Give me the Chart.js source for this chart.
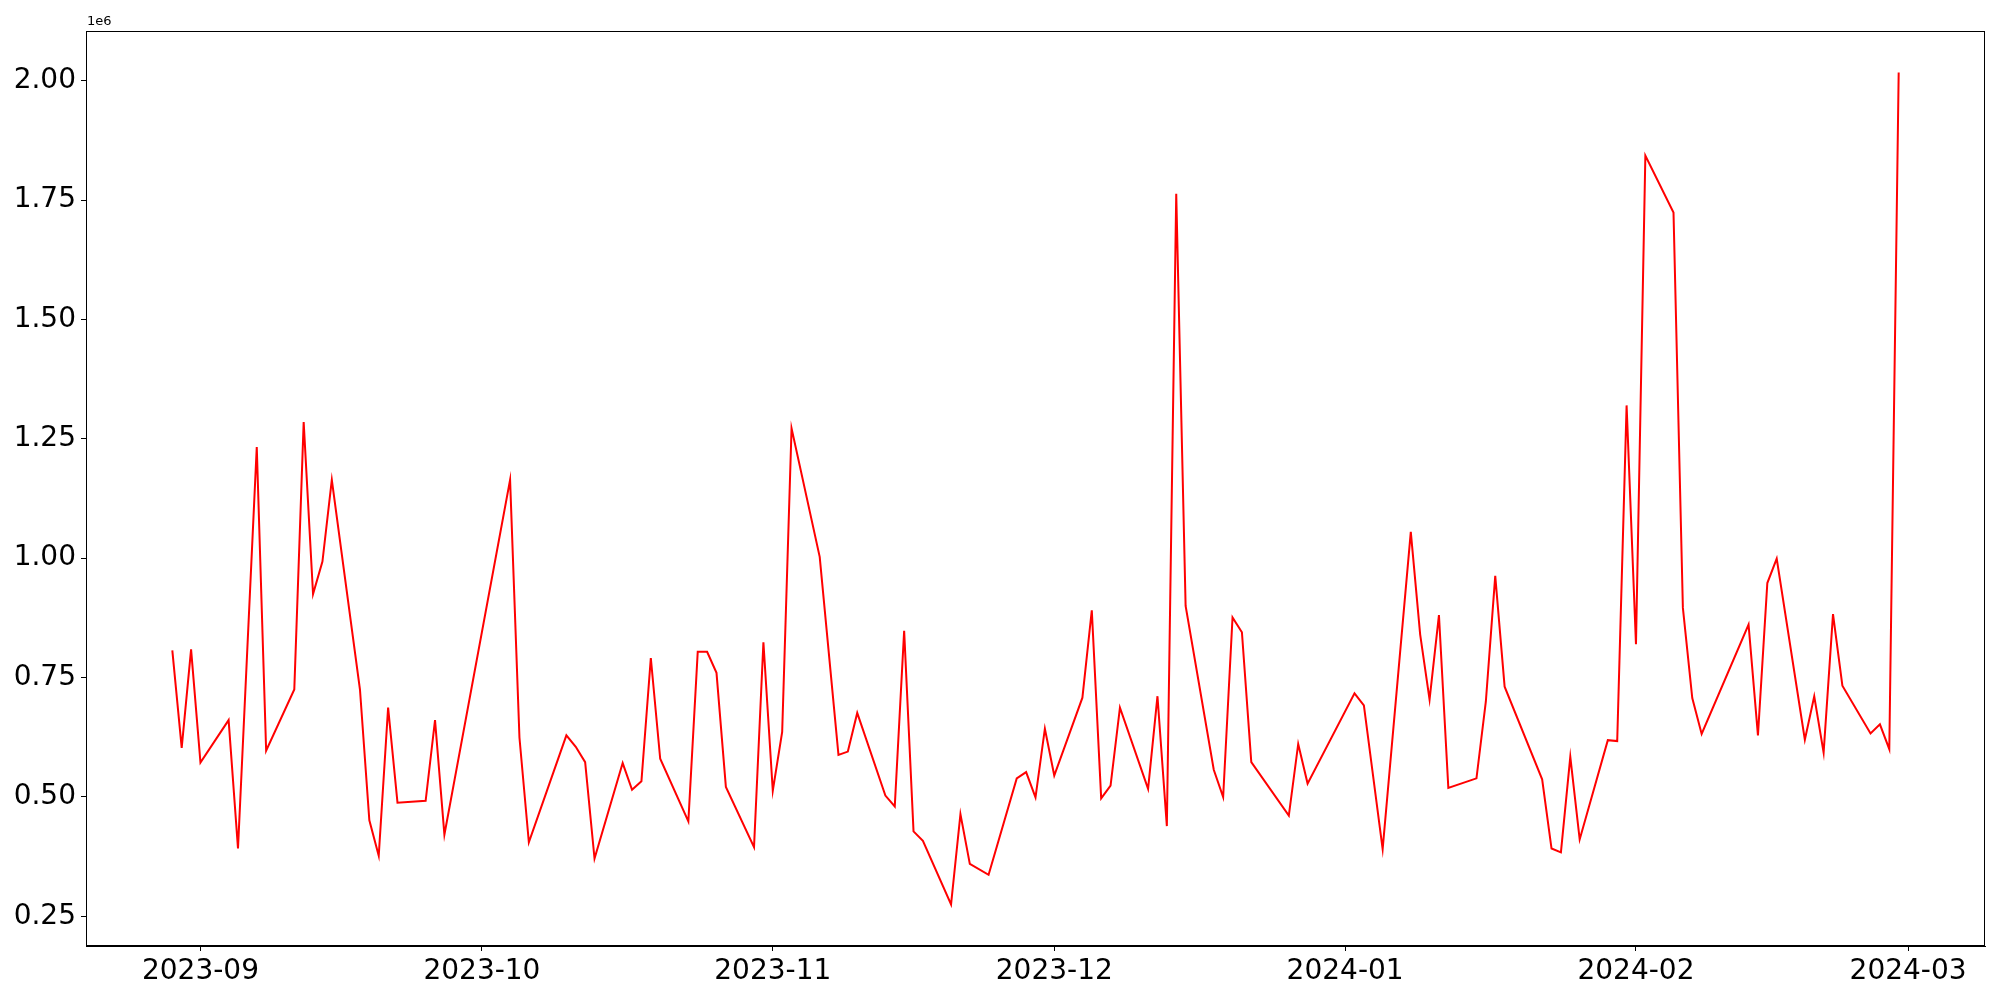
<!DOCTYPE html>
<html lang="en">
<head>
<meta charset="utf-8">
<title>Daily series</title>
<script src="https://cdn.jsdelivr.net/npm/chart.js@4/dist/chart.umd.min.js"></script>
<style>
  html, body { margin: 0; padding: 0; background: #ffffff; }
  #chart { display: block; }
</style>
</head>
<body>
<canvas id="chart" width="2000" height="1000"></canvas>
<script>
/**
 * Data
 */
const dates = [
  '2023-08-29', '2023-08-30', '2023-08-31', '2023-09-01', '2023-09-04', '2023-09-05',
  '2023-09-07', '2023-09-08', '2023-09-11', '2023-09-12', '2023-09-13', '2023-09-14',
  '2023-09-15', '2023-09-18', '2023-09-19', '2023-09-20', '2023-09-21', '2023-09-22',
  '2023-09-25', '2023-09-26', '2023-09-27', '2023-10-04', '2023-10-05', '2023-10-06',
  '2023-10-10', '2023-10-11', '2023-10-12', '2023-10-13', '2023-10-16', '2023-10-17',
  '2023-10-18', '2023-10-19', '2023-10-20', '2023-10-23', '2023-10-24', '2023-10-25',
  '2023-10-26', '2023-10-27', '2023-10-30', '2023-10-31', '2023-11-01', '2023-11-02',
  '2023-11-03', '2023-11-06', '2023-11-08', '2023-11-09', '2023-11-10', '2023-11-13',
  '2023-11-14', '2023-11-15', '2023-11-16', '2023-11-17', '2023-11-20', '2023-11-21',
  '2023-11-22', '2023-11-24', '2023-11-27', '2023-11-28', '2023-11-29', '2023-11-30',
  '2023-12-01', '2023-12-04', '2023-12-05', '2023-12-06', '2023-12-07', '2023-12-08',
  '2023-12-11', '2023-12-12', '2023-12-13', '2023-12-14', '2023-12-15', '2023-12-18',
  '2023-12-19', '2023-12-20', '2023-12-21', '2023-12-22', '2023-12-26', '2023-12-27',
  '2023-12-28', '2024-01-02', '2024-01-03', '2024-01-05', '2024-01-08', '2024-01-09',
  '2024-01-10', '2024-01-11', '2024-01-12', '2024-01-15', '2024-01-16', '2024-01-17',
  '2024-01-18', '2024-01-22', '2024-01-23', '2024-01-24', '2024-01-25', '2024-01-26',
  '2024-01-29', '2024-01-30', '2024-01-31', '2024-02-01', '2024-02-02', '2024-02-05',
  '2024-02-06', '2024-02-07', '2024-02-08', '2024-02-13', '2024-02-14', '2024-02-15',
  '2024-02-16', '2024-02-19', '2024-02-20', '2024-02-21', '2024-02-22', '2024-02-23',
  '2024-02-26', '2024-02-27', '2024-02-28', '2024-02-29'
];

const values = [
  807000, 603000, 809000, 572000, 661000, 392000,
  1233000, 597000, 725000, 1285000, 925000, 993000,
  1164000, 725000, 451000, 377000, 687000, 488000,
  492000, 661000, 421000, 1164000, 624000, 405000,
  629000, 605000, 573000, 371000, 571000, 515000,
  533000, 791000, 580000, 449000, 804000, 804000,
  760000, 521000, 395000, 824000, 513000, 636000,
  1272000, 1003000, 588000, 595000, 676000, 503000,
  480000, 848000, 428000, 408000, 275000, 464000,
  360000, 337000, 539000, 552000, 499000, 643000,
  545000, 708000, 891000, 497000, 524000, 687000,
  517000, 711000, 439000, 1763000, 900000, 557000,
  500000, 876000, 845000, 573000, 461000, 611000,
  528000, 717000, 692000, 391000, 1055000, 840000,
  704000, 881000, 519000, 539000, 700000, 963000,
  731000, 537000, 392000, 384000, 584000, 411000,
  619000, 617000, 1320000, 820000, 1843000, 1724000,
  896000, 707000, 632000, 861000, 629000, 948000,
  999000, 620000, 711000, 593000, 883000, 733000,
  633000, 652000, 600000, 2017000
];

const xTickLabels = ['2023-09', '2023-10', '2023-11', '2023-12', '2024-01', '2024-02', '2024-03'];
const yTickValues = [250000, 500000, 750000, 1000000, 1250000, 1500000, 1750000, 2000000];

(function initChart() {
  'use strict';

  const FONT = "'DejaVu Sans', 'Liberation Sans', sans-serif";
  const DAY = 86400000;

  /**
   * Turn 'YYYY-MM' or 'YYYY-MM-DD' into a day number
   */
  function toDay(str) {
    const p = str.split('-').map(Number);
    return Date.UTC(p[0], p[1] - 1, p[2] || 1) / DAY;
  }

  const points = dates.map((d, i) => ({ x: toDay(d), y: values[i] }));
  const monthTicks = xTickLabels.map(toDay);

  // matplotlib style 5% margins on both axes
  const xs = points.map((p) => p.x);
  const ys = points.map((p) => p.y);
  const xMin = Math.min(...xs);
  const xMax = Math.max(...xs);
  const yMin = Math.min(...ys);
  const yMax = Math.max(...ys);
  const xPad = (xMax - xMin) * 0.05;
  const yPad = (yMax - yMin) * 0.05;

  /**
   * Box round the plot area plus the "1e6" offset label
   */
  const framePlugin = {
    id: 'frame',
    afterDraw(chart) {
      const { ctx, chartArea: a } = chart;
      ctx.save();
      ctx.strokeStyle = '#000000';
      ctx.lineWidth = 1;
      ctx.strokeRect(a.left + 0.5, a.top + 0.5, a.right - a.left - 1, a.bottom - a.top - 1);
      ctx.fillStyle = '#000000';
      ctx.font = '13px ' + FONT;
      ctx.textAlign = 'left';
      ctx.textBaseline = 'alphabetic';
      ctx.fillText('1e6', a.left + 1, a.top - 6);
      ctx.restore();
    },
  };

  new Chart(document.getElementById('chart'), {
    type: 'line',
    data: {
      datasets: [
        {
          data: points,
          borderColor: '#ff0000',
          borderWidth: 2,
          pointRadius: 0,
          tension: 0,
          fill: false,
        },
      ],
    },
    options: {
      responsive: false,
      animation: false,
      devicePixelRatio: 1,
      parsing: false,
      layout: {
        padding: { top: 31, right: 15, left: 0, bottom: 0 },
      },
      plugins: {
        legend: { display: false },
        tooltip: { enabled: false },
      },
      scales: {
        x: {
          type: 'linear',
          min: xMin - xPad,
          max: xMax + xPad,
          afterBuildTicks: (scale) => {
            scale.ticks = monthTicks.map((v) => ({ value: v }));
          },
          afterFit: (scale) => {
            scale.height = 54;
          },
          ticks: {
            autoSkip: false,
            maxRotation: 0,
            padding: 4,
            color: '#000000',
            font: { family: FONT, size: 28 },
            callback: (v) => {
              const i = monthTicks.indexOf(v);
              return i >= 0 ? xTickLabels[i] : '';
            },
          },
          grid: {
            drawOnChartArea: false,
            drawTicks: true,
            tickLength: 5,
            color: '#000000',
          },
          border: { display: true, color: '#000000', width: 1 },
        },
        y: {
          type: 'linear',
          min: yMin - yPad,
          max: yMax + yPad,
          afterBuildTicks: (scale) => {
            scale.ticks = yTickValues.map((v) => ({ value: v }));
          },
          afterFit: (scale) => {
            scale.width = 86;
          },
          ticks: {
            padding: 5,
            color: '#000000',
            font: { family: FONT, size: 28 },
            callback: (v) => (v / 1e6).toFixed(2),
          },
          grid: {
            drawOnChartArea: false,
            drawTicks: true,
            tickLength: 5,
            color: '#000000',
          },
          border: { display: true, color: '#000000', width: 1 },
        },
      },
    },
    plugins: [framePlugin],
  });
})();
</script>
</body>
</html>
